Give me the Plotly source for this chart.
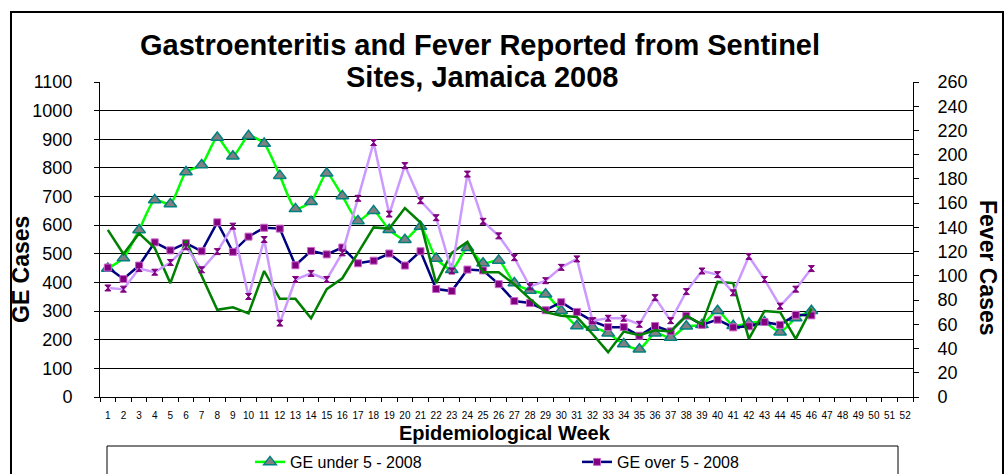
import plotly.graph_objects as go

# Epidemiological weeks shown on the category axis, and weeks with data
weeks = [str(w) for w in range(1, 53)]
data_weeks = weeks[:46]

# Gastroenteritis cases (left axis)
ge_under5 = [449, 485, 583, 688, 674, 786, 810, 906, 841, 912, 885, 773, 657, 682, 781, 702,
             615, 650, 584, 549, 595, 484, 444, 521, 467, 477, 398, 372, 359, 301, 248, 243,
             223, 185, 167, 223, 208, 247, 252, 301, 249, 258, 262, 226, 276, 301]
ge_over5 = [452, 412, 459, 540, 512, 537, 509, 610, 507, 560, 591, 588, 460, 510, 498, 522,
            467, 476, 501, 459, 509, 377, 370, 445, 442, 394, 335, 328, 303, 331, 297, 265,
            244, 244, 214, 248, 229, 284, 252, 270, 243, 247, 262, 252, 287, 285]

# Fever cases (right axis)
fever_under5 = [138, 118, 135, 123, 94, 129, 100, 72, 74, 69, 104, 81, 81, 65, 89, 98,
                119, 140, 139, 156, 144, 94, 119, 128, 103, 103, 93, 81, 70, 67, 66, 52,
                37, 54, 51, 55, 54, 67, 60, 95, 94, 48, 71, 70, 48, 73]
fever_over5 = [90, 89, 106, 103, 111, 124, 105, 120, 141, 83, 130, 61, 97, 102, 97, 119,
               164, 210, 151, 191, 162, 148, 104, 184, 145, 133, 115, 91, 96, 107, 114, 63,
               65, 65, 60, 82, 63, 87, 104, 101, 86, 116, 97, 75, 89, 106]

W, H = 1006, 474
L, R, T, B = 100, 93, 82, 77
PW, PH = W - L - R, H - T - B


def px(x):
    return (x - L) / PW


def py(y):
    return (H - B - y) / PH


FONT = "Arial, Liberation Sans, sans-serif"

fig = go.Figure()
fig.add_trace(go.Scatter(
    x=data_weeks, y=ge_under5, name="GE under 5 - 2008", mode="lines+markers",
    line=dict(color="#00FF00", width=2.5, shape="spline", smoothing=0.6),
    marker=dict(symbol="triangle-up", size=11, color="#808080",
                line=dict(color="#008080", width=1.5))))
fig.add_trace(go.Scatter(
    x=data_weeks, y=ge_over5, name="GE over 5 - 2008", mode="lines+markers",
    line=dict(color="#000080", width=2.5),
    marker=dict(symbol="square", size=7, color="#800080",
                line=dict(color="#CC66CC", width=1))))
fig.add_trace(go.Scatter(
    x=data_weeks, y=fever_under5, name="Fever under 5 - 2008", mode="lines", yaxis="y2",
    line=dict(color="#008000", width=2.5), showlegend=False))
fig.add_trace(go.Scatter(
    x=data_weeks, y=fever_over5, name="Fever over 5 - 2008", mode="lines+markers", yaxis="y2",
    line=dict(color="#CC99FF", width=2.5), showlegend=False,
    marker=dict(symbol="hourglass", size=6, color="#800080",
                line=dict(color="#800080", width=1))))

fig.update_layout(
    width=W, height=H,
    margin=dict(l=L, r=R, t=T, b=B, pad=0, autoexpand=False),
    paper_bgcolor="white", plot_bgcolor="white",
    font=dict(family=FONT, color="black"),
    showlegend=True,
    legend=dict(orientation="h", x=px(250), y=py(445), xanchor="left", yanchor="top",
                entrywidth=282, entrywidthmode="pixels", tracegroupgap=0,
                font=dict(size=16, family=FONT), bgcolor="rgba(0,0,0,0)"),
    xaxis=dict(type="category", categoryorder="array", categoryarray=weeks,
               range=[-0.5, 51.5], tickson="boundaries", ticks="outside", ticklen=4,
               tickcolor="black", showline=True, linecolor="black", linewidth=1,
               showgrid=False, tickfont=dict(size=10), tickangle=0, ticklabelstandoff=9),
    yaxis=dict(range=[0, 1100], dtick=100, tick0=0, showgrid=True, gridcolor="black",
               gridwidth=1, showline=True, linecolor="black", linewidth=1,
               ticks="outside", ticklen=5, tickcolor="black", zeroline=False,
               tickfont=dict(size=18), ticklabelstandoff=18),
    yaxis2=dict(range=[0, 260], dtick=20, tick0=0, overlaying="y", side="right",
                showgrid=False, showline=True, linecolor="black", linewidth=1,
                ticks="outside", ticklen=5, tickcolor="black", zeroline=False,
                tickfont=dict(size=18), ticklabelstandoff=15),
)

# Chart frame and legend box
fig.add_shape(type="rect", xref="paper", yref="paper",
              x0=px(11), x1=px(1003), y0=py(490), y1=py(12),
              line=dict(color="black", width=2), fillcolor="rgba(0,0,0,0)", layer="below")
fig.add_shape(type="rect", xref="paper", yref="paper",
              x0=px(107), x1=px(898), y0=py(490), y1=py(446),
              line=dict(color="black", width=1), fillcolor="rgba(0,0,0,0)", layer="below")

# Titles
fig.add_annotation(text="Gastroenteritis and Fever Reported from Sentinel", xref="paper", yref="paper",
                   x=px(480), y=py(45), showarrow=False, xanchor="center", yanchor="middle",
                   font=dict(size=29, weight="bold"))
fig.add_annotation(text="Sites, Jamaica 2008", xref="paper", yref="paper",
                   x=px(482), y=py(77), showarrow=False, xanchor="center", yanchor="middle",
                   font=dict(size=29, weight="bold"))
fig.add_annotation(text="GE Cases", xref="paper", yref="paper", x=px(21), y=py(270),
                   showarrow=False, textangle=-90, xanchor="center", yanchor="middle",
                   font=dict(size=23, weight="bold"))
fig.add_annotation(text="Fever Cases", xref="paper", yref="paper", x=px(988), y=py(268),
                   showarrow=False, textangle=90, xanchor="center", yanchor="middle",
                   font=dict(size=23, weight="bold"))
fig.add_annotation(text="Epidemiological Week", xref="paper", yref="paper", x=px(505), y=py(433),
                   showarrow=False, xanchor="center", yanchor="middle",
                   font=dict(size=20, weight="bold"))

fig.write_html("out.html")
